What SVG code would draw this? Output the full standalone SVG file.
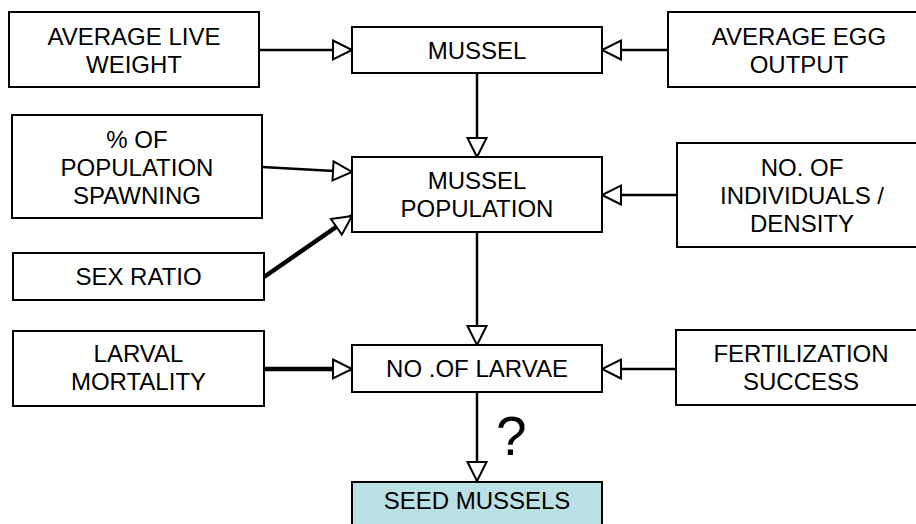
<svg xmlns="http://www.w3.org/2000/svg" width="916" height="524" viewBox="0 0 916 524">
<defs>
<style>
.box{fill:#ffffff;stroke:#000000;stroke-width:2}
.seed{fill:#bae0e3;stroke:#000000;stroke-width:2}
text{font-family:"Liberation Sans",Arial,sans-serif;font-size:24px;fill:#000000;text-anchor:middle}
.q{font-size:55px;text-anchor:start}
.c{fill:none;stroke:#000000;stroke-width:2.5}
.thick{stroke-width:4.5}
</style>
<marker id="ah" markerUnits="userSpaceOnUse" markerWidth="22" markerHeight="22" refX="20" refY="10" orient="auto" overflow="visible">
<path d="M1,0.5 L20,10 L1,19.5 Z" fill="#ffffff" stroke="#000000" stroke-width="2" stroke-linejoin="miter"/>
</marker>
</defs>
<rect width="916" height="524" fill="#ffffff"/>
<g id="connectors">
<line class="c" x1="259" y1="50" x2="352" y2="50" marker-end="url(#ah)"/>
<line class="c" x1="668" y1="50" x2="602" y2="50" marker-end="url(#ah)"/>
<line class="c" x1="477" y1="73" x2="477" y2="157" marker-end="url(#ah)"/>
<line class="c" x1="262" y1="167" x2="352" y2="172" marker-end="url(#ah)"/>
<line class="c thick" x1="264" y1="277" x2="352" y2="216" marker-end="url(#ah)"/>
<line class="c" x1="677" y1="195" x2="602" y2="195" marker-end="url(#ah)"/>
<line class="c" x1="477" y1="232" x2="477" y2="345" marker-end="url(#ah)"/>
<line class="c thick" x1="264" y1="369" x2="352" y2="369" marker-end="url(#ah)"/>
<line class="c" x1="676" y1="369" x2="602" y2="369" marker-end="url(#ah)"/>
<line class="c" x1="477" y1="392" x2="477" y2="481" marker-end="url(#ah)"/>
<text class="q" x="496" y="455">?</text>
</g>
<g id="avg-live-weight">
<rect class="box" x="9" y="12" width="250" height="75"/>
<text x="134" y="45">AVERAGE LIVE</text>
<text x="134" y="73">WEIGHT</text>
</g>
<g id="mussel">
<rect class="box" x="352" y="27" width="250" height="46"/>
<text x="477" y="59">MUSSEL</text>
</g>
<g id="avg-egg-output">
<rect class="box" x="668" y="12" width="262" height="75"/>
<text x="799" y="45">AVERAGE EGG</text>
<text x="799" y="73">OUTPUT</text>
</g>
<g id="pct-spawning">
<rect class="box" x="12" y="115" width="250" height="103"/>
<text x="137" y="148">% OF</text>
<text x="137" y="176">POPULATION</text>
<text x="137" y="204">SPAWNING</text>
</g>
<g id="mussel-population">
<rect class="box" x="352" y="157" width="250" height="75"/>
<text x="477" y="189">MUSSEL</text>
<text x="477" y="217">POPULATION</text>
</g>
<g id="individuals-density">
<rect class="box" x="677" y="143" width="253" height="104"/>
<text x="802" y="176">NO. OF</text>
<text x="802" y="204">INDIVIDUALS /</text>
<text x="802" y="232">DENSITY</text>
</g>
<g id="sex-ratio">
<rect class="box" x="13" y="253" width="251" height="47"/>
<text x="138.5" y="285">SEX RATIO</text>
</g>
<g id="larval-mortality">
<rect class="box" x="13" y="331" width="251" height="75"/>
<text x="138.5" y="362">LARVAL</text>
<text x="138.5" y="390">MORTALITY</text>
</g>
<g id="no-of-larvae">
<rect class="box" x="352" y="345" width="250" height="47"/>
<text x="477" y="377">NO .OF LARVAE</text>
</g>
<g id="fertilization-success">
<rect class="box" x="676" y="330" width="254" height="75"/>
<text x="801" y="362">FERTILIZATION</text>
<text x="801" y="390">SUCCESS</text>
</g>
<g id="seed-mussels">
<rect class="seed" x="352" y="482" width="250" height="60"/>
<text x="477" y="509">SEED MUSSELS</text>
</g>
</svg>
